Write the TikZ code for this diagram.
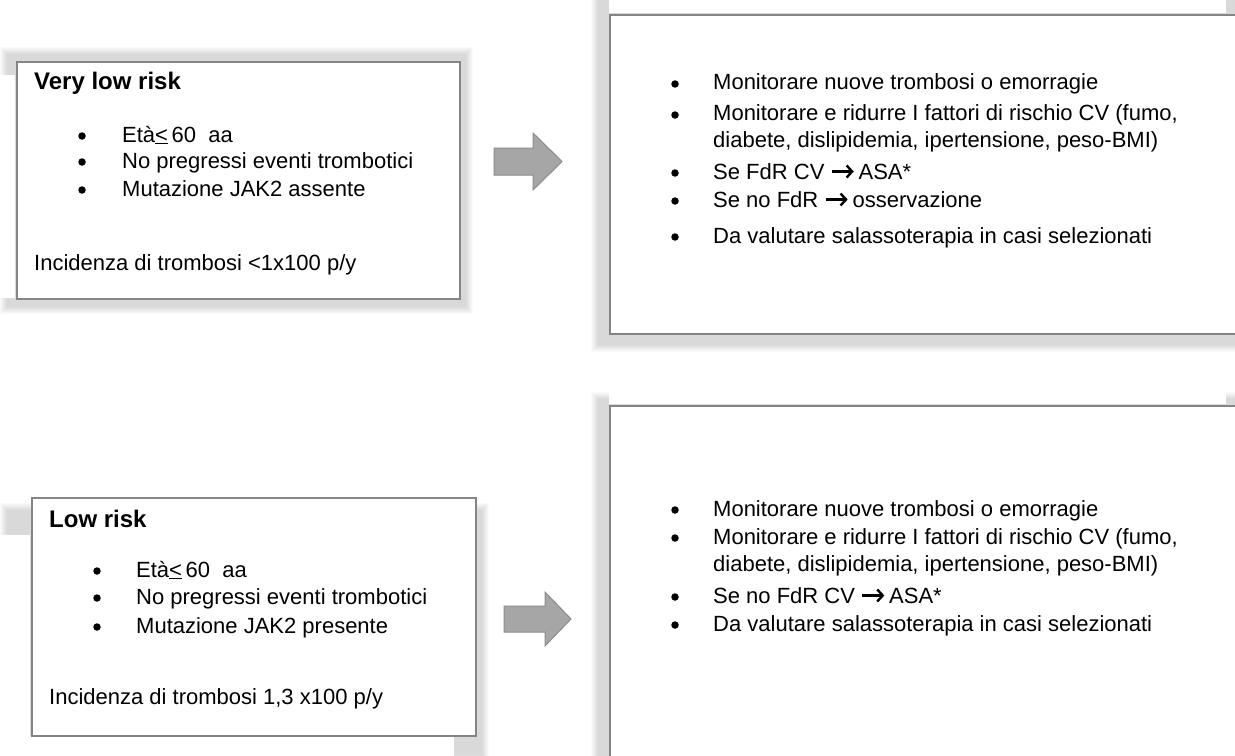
\documentclass[tikz,border=0pt]{standalone}
\usepackage{fontspec}
\setmainfont{Liberation Sans}
\usetikzlibrary{arrows.meta}
\definecolor{frame}{HTML}{858585}
\definecolor{arrfill}{HTML}{A6A6A6}
\definecolor{arredge}{HTML}{8C8C8C}
% soft drop shadow: nested, slightly transparent rectangles
\newcommand\softshadow[4]{%
  \foreach \k in {0,...,7}{%
    \fill[shadowlayer] ({#1+\k},{#2+\k}) rectangle ({#3-\k},{#4-\k});}}
% heavy inline arrow used inside the text lines
\newcommand\thenarrow{\tikz[x=1bp,y=1bp,baseline={(0,-7.5bp)}]
  \draw[line width=2.4bp,-{Straight Barb[length=5.5bp,width=12bp,line width=2.4bp]}]
  (0,0) -- (22,0);}
\begin{document}
\begin{tikzpicture}[x=1bp,y=-1bp,
  txt/.style={anchor=base west, inner sep=0pt, font=\fontsize{22bp}{27bp}\selectfont},
  head/.style={txt, font=\fontsize{24bp}{29bp}\selectfont\bfseries},
  dot/.style={circle, fill=black, inner sep=0pt, minimum size=7.5bp},
  panel/.style={draw=frame, line width=2bp, fill=white, anchor=north west, inner sep=0pt},
  blockarrow/.style={fill=arrfill, draw=arredge, line width=1bp},
  shadowlayer/.style={fill=black, opacity=0.018},
  cover/.style={fill=white}]
\useasboundingbox (0,0) rectangle (1235,756);
\clip (0,0) rectangle (1235,756);

% shadows
\softshadow{0}{47}{473}{314}
\softshadow{591}{-8}{1260}{352}
\softshadow{0}{503}{489}{762}
\softshadow{591}{392}{1260}{780}
\fill[cover] (0,75) rectangle (15,298);
\fill[cover] (609,-8) rectangle (1226,13);
\fill[cover] (0,535) rectangle (30,760);
\fill[cover] (0,736) rectangle (454,760);
\fill[cover] (609,392) rectangle (1226,404);

% panels
\node[panel, minimum width=443bp, minimum height=237bp] (vlr) at (16,61) {};
\node[panel, minimum width=641bp, minimum height=319bp] (vlrcare) at (609,14) {};
\node[panel, minimum width=444bp, minimum height=238bp] (lr) at (31,497) {};
\node[panel, minimum width=641bp, minimum height=380bp] (lrcare) at (609,405) {};

% block arrows
\draw[blockarrow] (494,148) -- (533,148) -- (533,133) -- (562,161.5)
  -- (533,190) -- (533,175) -- (494,175) -- cycle;
\draw[blockarrow] (504,606) -- (545,606) -- (545,592) -- (571,619)
  -- (545,646) -- (545,632) -- (504,632) -- cycle;

% very low risk
\node[head] (vlrh) at (34,90) {Very low risk};
\node[dot] (vlrd1) at (82,136) {};
\node[dot] (vlrd2) at (82,162) {};
\node[dot] (vlrd3) at (82,190) {};
\node[txt] (vlr1) at (122,142) {Età\underline{<}\,60\ \ aa};
\node[txt] (vlr2) at (122,168) {No pregressi eventi trombotici};
\node[txt] (vlr3) at (122,196) {Mutazione JAK2 assente};
\node[txt] (vlri) at (34,270) {Incidenza di trombosi <1x100 p/y};

% very low risk: management
\node[dot] (vcd1) at (675,84) {};
\node[dot] (vcd2) at (675,115) {};
\node[dot] (vcd3) at (675,173) {};
\node[dot] (vcd4) at (675,201) {};
\node[dot] (vcd5) at (675,237) {};
\node[txt] (vc1) at (713,90) {Monitorare nuove trombosi o emorragie};
\node[txt] (vc2) at (713,121) {Monitorare e ridurre I fattori di rischio CV (fumo,};
\node[txt] (vc2b) at (713,147) {diabete, dislipidemia, ipertensione, peso-BMI)};
\node[txt] (vc3) at (713,179) {Se FdR CV \thenarrow\,ASA*};
\node[txt] (vc4) at (713,207) {Se no FdR \thenarrow\,osservazione};
\node[txt] (vc5) at (713,243) {Da valutare salassoterapia in casi selezionati};

% low risk
\node[head] (lrh) at (49,527) {Low risk};
\node[dot] (lrd1) at (97,571) {};
\node[dot] (lrd2) at (97,598) {};
\node[dot] (lrd3) at (97,627) {};
\node[txt] (lr1) at (136,577) {Età\underline{<}\,60\ \ aa};
\node[txt] (lr2) at (136,604) {No pregressi eventi trombotici};
\node[txt] (lr3) at (136,633) {Mutazione JAK2 presente};
\node[txt] (lri) at (49,704) {Incidenza di trombosi 1,3 x100 p/y};

% low risk: management
\node[dot] (lcd1) at (675,510) {};
\node[dot] (lcd2) at (675,538) {};
\node[dot] (lcd3) at (675,597) {};
\node[dot] (lcd4) at (675,625) {};
\node[txt] (lc1) at (713,516) {Monitorare nuove trombosi o emorragie};
\node[txt] (lc2) at (713,544) {Monitorare e ridurre I fattori di rischio CV (fumo,};
\node[txt] (lc2b) at (713,571) {diabete, dislipidemia, ipertensione, peso-BMI)};
\node[txt] (lc3) at (713,603) {Se no FdR CV \thenarrow\,ASA*};
\node[txt] (lc4) at (713,631) {Da valutare salassoterapia in casi selezionati};
\end{tikzpicture}
\end{document}
